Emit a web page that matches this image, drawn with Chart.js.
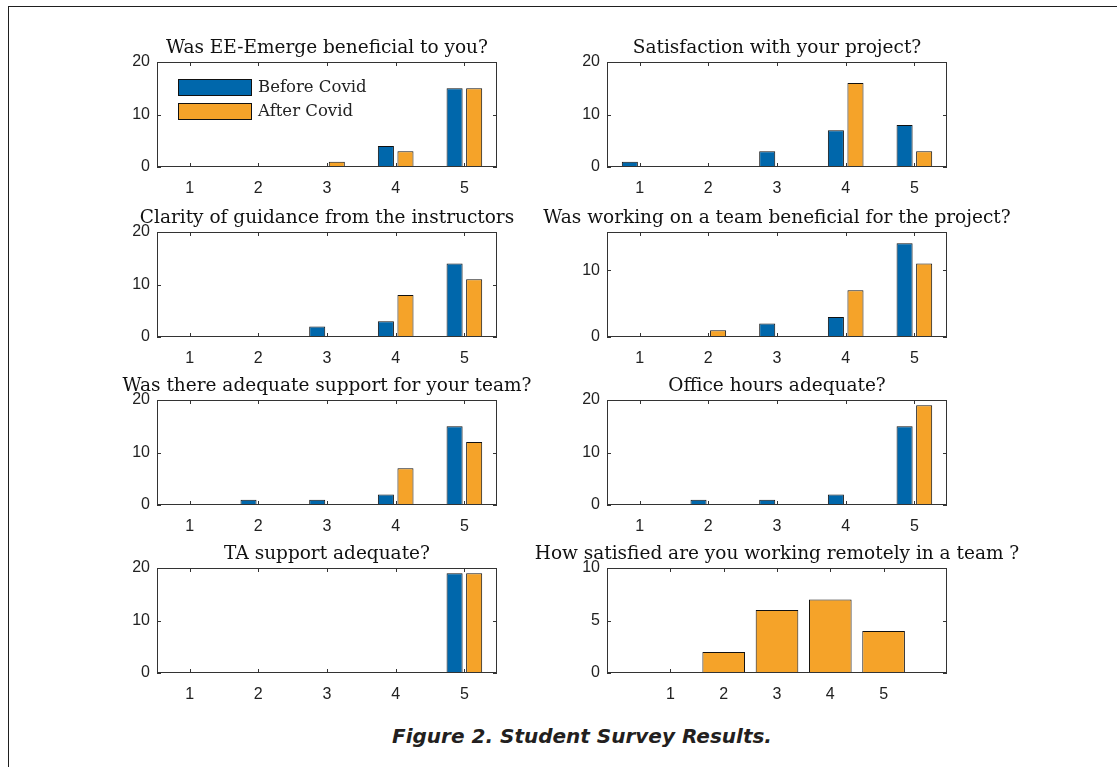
<!DOCTYPE html>
<html>
<head>
<meta charset="utf-8">
<title>Student Survey Results</title>
<script src="https://cdn.jsdelivr.net/npm/chart.js@4/dist/chart.umd.min.js"></script>
<style>
  html, body { margin: 0; padding: 0; background: #ffffff; }
  body { width: 1117px; height: 767px; overflow: hidden; position: relative; }
  #frame {
    position: absolute; left: 8px; top: 6px; width: 1200px; height: 800px;
    border-left: 1px solid #1f1f1f; border-top: 1px solid #1f1f1f;
  }
  .panel { position: absolute; }
  .panel canvas { display: block; }
  #caption {
    position: absolute; left: 0; top: 724px; width: 1164px; text-align: center;
    font-family: "DejaVu Sans", "Open Sans", sans-serif; font-style: oblique; font-weight: bold;
    font-size: 20px; color: #231f20;
  }
</style>
</head>
<body>
<div id="frame"></div>
<div id="panels"></div>
<div id="caption">Figure 2. Student Survey Results.</div>

<script>
// Answer scale (1 = lowest, 5 = highest)
const categories = [1, 2, 3, 4, 5];
const seriesNames = ['Before Covid', 'After Covid'];

// Number of students giving each answer
const eeEmergeBefore = [0, 0, 0, 4, 15];
const eeEmergeAfter  = [0, 0, 1, 3, 15];
const projectBefore  = [1, 0, 3, 7, 8];
const projectAfter   = [0, 0, 0, 16, 3];
const guidanceBefore = [0, 0, 2, 3, 14];
const guidanceAfter  = [0, 0, 0, 8, 11];
const teamBefore     = [0, 0, 2, 3, 14];
const teamAfter      = [0, 1, 0, 7, 11];
const supportBefore  = [0, 1, 1, 2, 15];
const supportAfter   = [0, 0, 0, 7, 12];
const officeBefore   = [0, 1, 1, 2, 15];
const officeAfter    = [0, 0, 0, 0, 19];
const taBefore       = [0, 0, 0, 0, 19];
const taAfter        = [0, 0, 0, 0, 19];
const remoteTeam     = [0, 2, 6, 7, 4];

// Y tick labels
const yTicks20   = [0, 10, 20];
const yTicksTeam = [0, 10];
const yTicks10   = [0, 5, 10];

// Question titles
const titles = [
  'Was EE-Emerge beneficial to you?',
  'Satisfaction with your project?',
  'Clarity of guidance from the instructors',
  'Was working on a team beneficial for the project?',
  'Was there adequate support for your team?',
  'Office hours adequate?',
  'TA support adequate?',
  'How satisfied are you working remotely in a team ?'
];

// ---- styling / layout ----
const BLUE = '#0067ab';
const ORANGE = '#f5a329';
const AXIS_COLOR = '#333333';
const TEXT_COLOR = '#222222';
const SERIF = '"DejaVu Serif", "Liberation Serif", serif';
const SANS = '"Liberation Sans", Arial, sans-serif';

const PLOT_W = 340, PLOT_H = 105;
const SIDE = 90;           // room left of plot (y labels) and mirrored on right
const TOP_SPACE = 40;      // title block above plot
const BOTTOM_SPACE = 35;   // x tick labels below plot
const colLeft = [157, 607];
const rowTop = [62, 232, 400, 568];

// Title centred over the axes box
const panelTitle = {
  id: 'panelTitle',
  afterDraw(chart, args, opts) {
    const { ctx, chartArea: a } = chart;
    ctx.save();
    ctx.fillStyle = '#111111';
    ctx.font = '18.5px ' + SERIF;
    ctx.textAlign = 'center';
    ctx.textBaseline = 'alphabetic';
    ctx.fillText(opts.text, (a.left + a.right) / 2, a.top - 9.5);
    ctx.restore();
  }
};

// Box around each axes with inward tick marks on all four sides
const axesFrame = {
  id: 'axesFrame',
  beforeDatasetsDraw(chart) {
    const { ctx, chartArea: a, scales: { x, y } } = chart;
    const L = 4;
    ctx.save();
    ctx.strokeStyle = AXIS_COLOR;
    ctx.lineWidth = 1;
    ctx.beginPath();
    x.ticks.forEach(t => {
      const px = Math.round(x.getPixelForValue(t.value)) + 0.5;
      ctx.moveTo(px, a.bottom); ctx.lineTo(px, a.bottom - L);
      ctx.moveTo(px, a.top); ctx.lineTo(px, a.top + L);
    });
    y.ticks.forEach(t => {
      const py = Math.round(y.getPixelForValue(t.value)) + 0.5;
      ctx.moveTo(a.left, py); ctx.lineTo(a.left + L, py);
      ctx.moveTo(a.right, py); ctx.lineTo(a.right - L, py);
    });
    ctx.stroke();
    ctx.restore();
  },
  afterDatasetsDraw(chart) {
    const { ctx, chartArea: a } = chart;
    ctx.save();
    ctx.strokeStyle = AXIS_COLOR;
    ctx.lineWidth = 1;
    const l = Math.round(a.left) + 0.5, t = Math.round(a.top) + 0.5;
    const r = Math.round(a.right) - 0.5, b = Math.round(a.bottom) - 0.5;
    ctx.strokeRect(l, t, r - l, b - t);
    ctx.restore();
  }
};

// Legend drawn inside the first axes: long colour swatches, serif labels
const boxLegend = {
  id: 'boxLegend',
  afterDatasetsDraw(chart) {
    const { ctx, chartArea: a } = chart;
    ctx.save();
    chart.data.datasets.forEach((ds, i) => {
      const x0 = Math.round(a.left) + 21, y0 = Math.round(a.top) + 17 + i * 24;
      ctx.fillStyle = ds.backgroundColor;
      ctx.fillRect(x0, y0, 74, 17);
      ctx.strokeStyle = '#111111';
      ctx.lineWidth = 1;
      ctx.strokeRect(x0 + 0.5, y0 + 0.5, 73, 16);
      ctx.fillStyle = TEXT_COLOR;
      ctx.font = '16.5px ' + SERIF;
      ctx.textBaseline = 'middle';
      ctx.textAlign = 'left';
      ctx.fillText(ds.label, x0 + 80, y0 + 9);
    });
    ctx.restore();
  }
};

const panels = [
  { title: titles[0], series: [eeEmergeBefore, eeEmergeAfter], yMax: 20, yTicks: yTicks20, col: 0, row: 0, legend: true },
  { title: titles[1], series: [projectBefore, projectAfter],   yMax: 20, yTicks: yTicks20, col: 1, row: 0 },
  { title: titles[2], series: [guidanceBefore, guidanceAfter], yMax: 20, yTicks: yTicks20, col: 0, row: 1 },
  { title: titles[3], series: [teamBefore, teamAfter],         yMax: 15.7, yTicks: yTicksTeam, col: 1, row: 1 },
  { title: titles[4], series: [supportBefore, supportAfter],   yMax: 20, yTicks: yTicks20, col: 0, row: 2 },
  { title: titles[5], series: [officeBefore, officeAfter],     yMax: 20, yTicks: yTicks20, col: 1, row: 2 },
  { title: titles[6], series: [taBefore, taAfter],             yMax: 20, yTicks: yTicks20, col: 0, row: 3 },
  { title: titles[7], series: [remoteTeam],                    yMax: 10, yTicks: yTicks10, col: 1, row: 3, single: true }
];

const host = document.getElementById('panels');

panels.forEach((p) => {
  const w = PLOT_W + 2 * SIDE, h = TOP_SPACE + PLOT_H + BOTTOM_SPACE;
  const div = document.createElement('div');
  div.className = 'panel';
  div.style.left = (colLeft[p.col] - SIDE) + 'px';
  div.style.top = (rowTop[p.row] - TOP_SPACE) + 'px';
  div.style.width = w + 'px';
  div.style.height = h + 'px';
  const canvas = document.createElement('canvas');
  canvas.width = w; canvas.height = h;
  canvas.style.width = w + 'px'; canvas.style.height = h + 'px';
  div.appendChild(canvas);
  host.appendChild(div);

  const colors = p.single ? [ORANGE] : [BLUE, ORANGE];
  const names = p.single ? [seriesNames[1]] : seriesNames;
  const datasets = p.series.map((vals, i) => ({
    label: names[i],
    data: categories.map((c, k) => ({ x: c, y: vals[k] })),
    backgroundColor: colors[i],
    borderColor: '#111111',
    borderWidth: ctx => (ctx.raw && ctx.raw.y === 0 ? 0 : 1),
    borderSkipped: false,
    categoryPercentage: p.single ? 1 : 0.57,
    barPercentage: p.single ? 0.8 : 0.82
  }));

  new Chart(canvas, {
    type: 'bar',
    data: { datasets },
    plugins: p.legend ? [axesFrame, boxLegend, panelTitle] : [axesFrame, panelTitle],
    options: {
      responsive: false,
      animation: false,
      devicePixelRatio: 1,
      layout: { padding: { left: 0, right: SIDE, top: TOP_SPACE, bottom: 0 } },
      plugins: {
        legend: { display: false },
        tooltip: { enabled: false },
        title: { display: false },
        panelTitle: { text: p.title }
      },
      scales: {
        x: {
          type: 'linear',
          min: p.single ? -0.19 : 0.525,
          max: p.single ? 6.19 : 5.475,
          offset: false,
          grid: { display: false, drawTicks: false },
          border: { display: false },
          afterBuildTicks: s => { s.ticks = categories.map(v => ({ value: v })); },
          afterFit: s => { s.height = BOTTOM_SPACE; },
          ticks: {
            color: TEXT_COLOR,
            font: { family: SANS, size: 16 },
            padding: 12,
            maxRotation: 0,
            autoSkip: false,
            callback: v => String(v)
          }
        },
        y: {
          min: 0,
          max: p.yMax,
          grid: { display: false, drawTicks: false },
          border: { display: false },
          afterBuildTicks: s => { s.ticks = p.yTicks.map(v => ({ value: v })); },
          afterFit: s => { s.width = SIDE; },
          ticks: {
            color: TEXT_COLOR,
            font: { family: SANS, size: 16 },
            padding: 7,
            callback: v => String(v)
          }
        }
      }
    }
  });
});
</script>
</body>
</html>
